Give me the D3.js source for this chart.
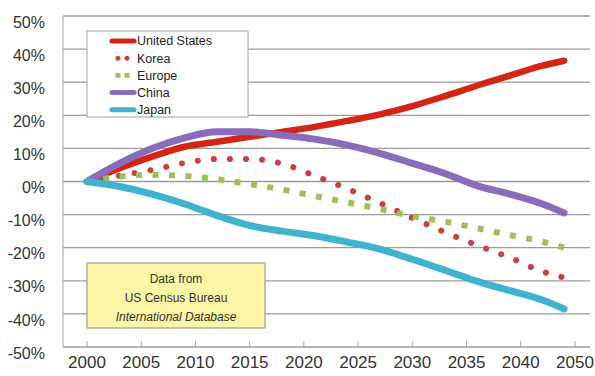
<!DOCTYPE html>
<html><head><meta charset="utf-8">
<script src="https://cdn.jsdelivr.net/npm/d3@7"></script>
<style>
html,body{margin:0;padding:0;background:#fff;}
svg{display:block;}
</style></head>
<body>
<svg id="chart" width="595" height="376"></svg>
<script>
// ---- data ----
const years = [2000, 2003, 2006, 2009, 2012, 2015, 2018, 2021, 2024, 2027, 2030, 2033, 2036, 2039, 2042, 2044];
const unitedStates = [0, 4, 7.5, 10.5, 12, 13.5, 15, 16.5, 18.3, 20.3, 22.8, 25.8, 29, 32, 35, 36.5];
const korea        = [0, 1.8, 3.5, 5.6, 6.8, 6.8, 5.4, 1.7, -2.2, -6.5, -11, -15.3, -19.3, -23, -27.2, -29];
const europe       = [0, 1.5, 2, 1.7, 0.7, -0.8, -2.4, -4.4, -6.3, -8.3, -10.5, -12.1, -14.1, -16.2, -18.2, -20];
const china        = [0, 5.5, 10, 13.2, 15, 15, 14, 12.8, 11, 8.5, 5.5, 2.4, -1.3, -3.8, -6.8, -9.5];
const japan        = [0, -1.5, -3.8, -6.8, -10.3, -13.3, -15, -16.4, -18.3, -20.4, -23.5, -26.8, -30.2, -33, -35.8, -38.5];
const seriesNames = ["United States", "Korea", "Europe", "China", "Japan"];
const yTicks = [50, 40, 30, 20, 10, 0, -10, -20, -30, -40, -50];
const xTickYears = [2000, 2005, 2010, 2015, 2020, 2025, 2030, 2035, 2040, 2045];
const xTickLabels = ["2000", "2005", "2010", "2015", "2020", "2025", "2030", "2035", "2040", "2050"];
const noteLines = ["Data from", "US Census Bureau", "International Database"];

(function () {
// ---- styles ----
const styles = {
  "United States": {color: "#d32414", width: 6.5, dash: null, cap: "round"},
  "Korea":         {color: "#c9403c", width: 6,   dash: "0.1,16", cap: "round"},
  "Europe":        {color: "#9dc05a", width: 6,   dash: "6,10.5", cap: "butt"},
  "China":         {color: "#8a6cbc", width: 7,   dash: null, cap: "round"},
  "Japan":         {color: "#41b3cf", width: 7,   dash: null, cap: "round"}
};
const values = {"United States": unitedStates, "Korea": korea, "Europe": europe, "China": china, "Japan": japan};

const svg = d3.select("#chart");
const pLeft = 63, pRight = 590, pTop = 16, pBottom = 347;
const x = d3.scaleLinear().domain([2000, 2045]).range([87, 575]);
const y = d3.scaleLinear().domain([-50, 50]).range([pBottom, pTop]);

// gridlines
svg.append("g").selectAll("line").data(yTicks).join("line")
  .attr("x1", pLeft).attr("x2", pRight)
  .attr("y1", d => y(d)).attr("y2", d => y(d))
  .attr("stroke", "#9a9a9a").attr("stroke-width", 1.3);
// left axis line
svg.append("line").attr("x1", pLeft).attr("x2", pLeft).attr("y1", pTop).attr("y2", pBottom)
  .attr("stroke", "#b0b0b0").attr("stroke-width", 1.2);

// y axis labels
svg.append("g").selectAll("text").data(yTicks).join("text")
  .attr("x", 45).attr("y", d => y(d) + 6).attr("dy", "0.35em")
  .attr("text-anchor", "end")
  .attr("font-family", "Liberation Sans, Arial, sans-serif").attr("font-size", 16)
  .attr("fill", "#333").text(d => d + "%");

// x ticks (inside)
svg.append("g").selectAll("line").data(xTickYears).join("line")
  .attr("x1", d => x(d)).attr("x2", d => x(d))
  .attr("y1", pBottom).attr("y2", pBottom - 6)
  .attr("stroke", "#a8a8a8").attr("stroke-width", 1);
svg.append("g").selectAll("text").data(xTickYears).join("text")
  .attr("x", d => x(d)).attr("y", 368)
  .attr("text-anchor", "middle")
  .attr("font-family", "Liberation Sans, Arial, sans-serif").attr("font-size", 17)
  .attr("fill", "#333").text((d, i) => xTickLabels[i]);

// series lines
const line = d3.line().x(d => x(d[0])).y(d => y(d[1])).curve(d3.curveMonotoneX);
const g = svg.append("g");
seriesNames.forEach(name => {
  const s = styles[name];
  const pts = years.map((yr, i) => [yr, values[name][i]]);
  const p = g.append("path").datum(pts).attr("d", line)
    .attr("fill", "none").attr("stroke", s.color).attr("stroke-width", s.width)
    .attr("stroke-linecap", s.cap).attr("stroke-linejoin", "round");
  if (s.dash) p.attr("stroke-dasharray", s.dash);
});

// legend
const lg = svg.append("g");
lg.append("rect").attr("x", 87).attr("y", 31).attr("width", 161).attr("height", 86)
  .attr("fill", "#fff").attr("stroke", "#a0a0a0").attr("stroke-width", 1);
seriesNames.forEach((name, i) => {
  const s = styles[name];
  const ly = 41 + i * 17.2;
  if (name === "Korea") {
    [118, 127].forEach(cx => lg.append("circle").attr("cx", cx).attr("cy", ly).attr("r", 2.5).attr("fill", s.color));
  } else if (name === "Europe") {
    [118, 127].forEach(cx => lg.append("rect").attr("x", cx - 2.5).attr("y", ly - 2.5).attr("width", 5).attr("height", 5).attr("fill", s.color));
  } else {
    lg.append("line").attr("x1", 112).attr("x2", 134).attr("y1", ly).attr("y2", ly)
      .attr("stroke", s.color).attr("stroke-width", 5).attr("stroke-linecap", "round");
  }
  lg.append("text").attr("x", 137).attr("y", ly).attr("dy", "0.35em")
    .attr("font-family", "Liberation Sans, Arial, sans-serif").attr("font-size", 12.5)
    .attr("fill", "#222").text(name);
});

// note box
const nb = svg.append("g");
nb.append("rect").attr("x", 87).attr("y", 263).attr("width", 178).attr("height", 65)
  .attr("fill", "#fcf6a6").attr("stroke", "#8a8a8a").attr("stroke-width", 1);
noteLines.forEach((t, i) => {
  nb.append("text").attr("x", 176).attr("y", 279 + i * 19).attr("dy", "0.35em")
    .attr("text-anchor", "middle")
    .attr("font-family", "Liberation Sans Narrow, Arial Narrow, Liberation Sans, sans-serif")
    .attr("font-size", 12).attr("fill", "#333")
    .attr("font-style", i === 2 ? "italic" : "normal").text(t);
});
})();
</script>
</body></html>
